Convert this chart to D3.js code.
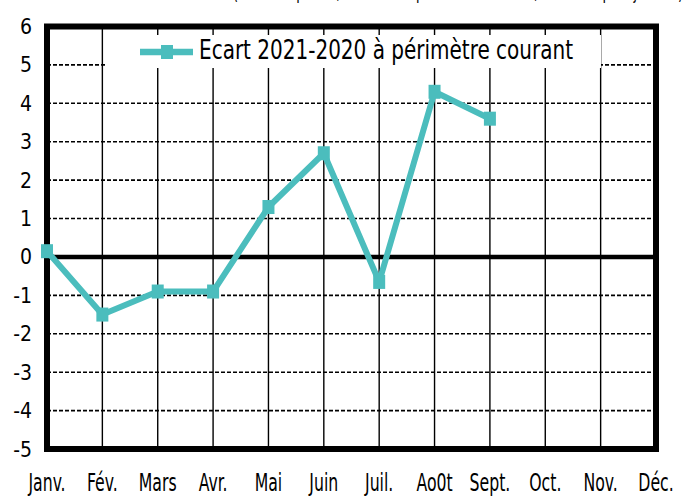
<!DOCTYPE html>
<html><head><meta charset="utf-8">
<script src="https://cdn.jsdelivr.net/npm/d3@7"></script>
<style>body{margin:0;background:#fff}svg{display:block}</style>
</head><body>
<svg id="c" width="694" height="497"></svg>
<script>
const months = ["Janv.","Fév.","Mars","Avr.","Mai","Juin","Juil.","Ao0t","Sept.","Oct.","Nov.","Déc."];
const values = [0.15,-1.5,-0.9,-0.9,1.3,2.7,-0.65,4.3,3.6];
const yTicks = [-5,-4,-3,-2,-1,0,1,2,3,4,5,6];
const seriesName = "Ecart 2021-2020 à périmètre courant";
const titleText = "(Ecart en points, données à périmètre courant, cumul depuis janvier)";

const svg = d3.select("#c");
const font = "'DejaVu Sans Condensed','DejaVu Sans',sans-serif";
const color = "#4bbdbd";
const x = d3.scalePoint().domain(months).range([47,656]);
const y = d3.scaleLinear().domain([-5,6]).range([449,26.5]);

// clipped title (cut at the top edge, as in the reference)
svg.append("text").attr("x",233).attr("y",-1).attr("font-family",font).attr("font-size",22)
  .attr("textLength",450).attr("lengthAdjust","spacingAndGlyphs").text(titleText);

// horizontal dashed grid
svg.append("g").selectAll("line").data(yTicks.filter(d=>d!==0&&d!==6&&d!==-5)).join("line")
  .attr("x1",x.range()[0]).attr("x2",x.range()[1]).attr("y1",d=>y(d)).attr("y2",d=>y(d))
  .attr("stroke","#000").attr("stroke-width",1.6).attr("stroke-dasharray","4,2");
// vertical grid
svg.append("g").selectAll("line").data(months.slice(1,-1)).join("line")
  .attr("x1",d=>x(d)).attr("x2",d=>x(d)).attr("y1",y(6)).attr("y2",y(-5))
  .attr("stroke","#000").attr("stroke-width",1.4);
// zero line
svg.append("line").attr("x1",x.range()[0]).attr("x2",x.range()[1]).attr("y1",y(0)).attr("y2",y(0))
  .attr("stroke","#000").attr("stroke-width",4.5);

// legend box
svg.append("rect").attr("x",107).attr("y",35).attr("width",494).attr("height",33).attr("fill","#fff");
const ly = 52;
svg.append("line").attr("x1",140).attr("x2",193).attr("y1",ly).attr("y2",ly).attr("stroke",color).attr("stroke-width",6.5);
svg.append("rect").attr("x",161).attr("y",ly-7).attr("width",12).attr("height",14).attr("fill",color);
svg.append("text").attr("x",199).attr("y",59).attr("font-family",font).attr("font-size",26)
  .attr("textLength",374).attr("lengthAdjust","spacingAndGlyphs").text(seriesName);

// frame
svg.append("rect").attr("x",x.range()[0]).attr("y",y(6)).attr("width",x.range()[1]-x.range()[0])
  .attr("height",y(-5)-y(6)).attr("fill","none").attr("stroke","#000").attr("stroke-width",6);

// series
const line = d3.line().x((d,i)=>x(months[i])).y(d=>y(d));
svg.append("path").datum(values).attr("d",line).attr("fill","none").attr("stroke",color)
  .attr("stroke-width",6).attr("stroke-linejoin","round");
svg.append("g").selectAll("rect").data(values).join("rect")
  .attr("x",(d,i)=>x(months[i])-6).attr("y",d=>y(d)-7).attr("width",12).attr("height",14).attr("fill",color);

// y tick labels
svg.append("g").selectAll("text").data(yTicks).join("text")
  .attr("x",32).attr("y",d=>y(d)+7.5).attr("text-anchor","end")
  .attr("font-family",font).attr("font-size",21).text(d=>d);
// x tick labels (condensed)
svg.append("g").selectAll("text").data(months).join("text")
  .attr("transform",d=>`translate(${x(d)},491) scale(0.7,1)`).attr("text-anchor","middle")
  .attr("font-family",font).attr("font-size",25).text(d=>d);
</script>
</body></html>
